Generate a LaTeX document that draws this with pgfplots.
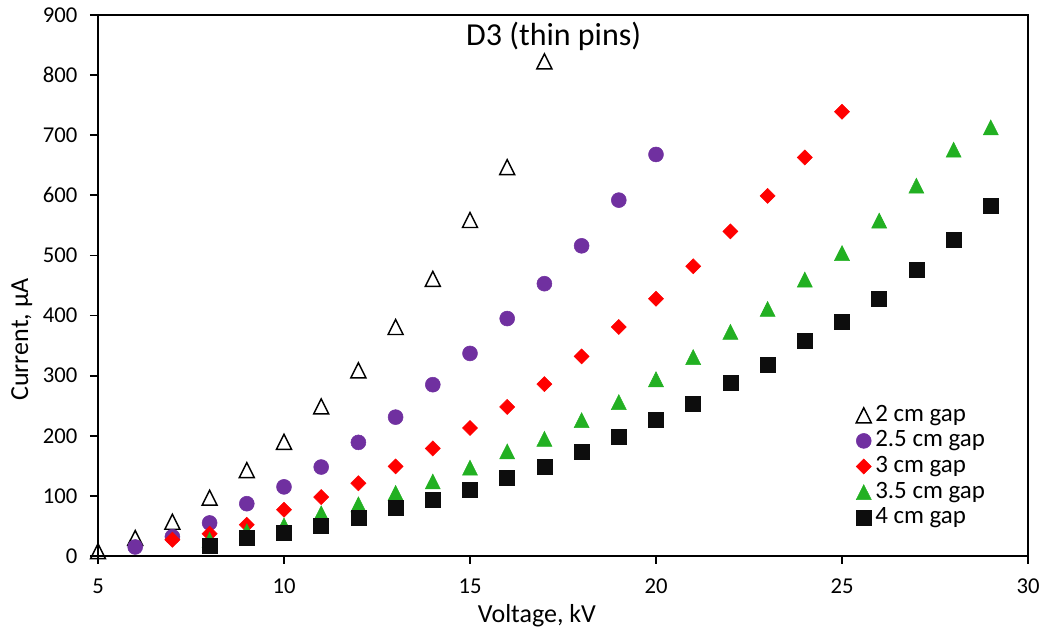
\documentclass[border=0pt]{standalone}
\usepackage{pgfplots}
\pgfplotsset{compat=1.18}
\usepackage{fontspec}
\setmainfont{Carlito}
\definecolor{cpurple}{HTML}{7030A0}
\definecolor{cred}{HTML}{FF0000}
\definecolor{cgreen}{HTML}{22B022}
\definecolor{cblack}{HTML}{0D0D0D}
\pgfplotsset{onelegend/.style={legend image code/.code={\draw[##1] plot coordinates {(0pt,0pt)};}}}
\begin{document}
\begin{tikzpicture}
\useasboundingbox (0,0) rectangle (785.25pt,475.5pt);
\begin{axis}[
  at={(73.5pt,58.5pt)}, anchor=south west,
  scale only axis, width=697.5pt, height=405.75pt,
  xmin=5, xmax=30, ymin=0, ymax=900,
  xtick={5,10,...,30}, ytick={0,100,...,900},
  tick align=outside, tick pos=left,
  major tick length=6pt,
  axis line style={line width=1.4pt, black},
  every tick/.style={line width=1.4pt, black},
  /pgf/number format/assume math mode=true,
  ticklabel style={font=\fontsize{17}{20}\selectfont},
  yticklabel style={xshift=-6pt},
  xticklabel style={yshift=-7.5pt},
  clip=false,
  xlabel={Voltage, kV}, ylabel={Current, µA},
  label style={font=\fontsize{19.5}{23}\selectfont},
  xlabel style={at={(axis description cs:0.472,-0.111)}, anchor=center},
  ylabel style={at={(axis description cs:-0.082,0.40)}, anchor=center, rotate=0},
  legend style={draw=none, fill=none, font=\fontsize{18.7}{22}\selectfont,
    at={(axis description cs:0.815,0.284)}, anchor=north west,
    row sep=0.2pt, column sep=2pt, inner sep=0pt,
    nodes={inner sep=1pt, text height=13pt, text depth=4pt}},
  legend cell align=left,
]
\addplot[only marks, mark=triangle, mark size=6.5pt, mark options={yshift=-1.9pt, yscale=1.15, line width=1.1pt, draw=black, fill=white}, onelegend]
coordinates {(5,8)(6,30)(7,57)(8,97)(9,143)(10,190)(11,249)(12,309)(13,381)(14,461)(15,559)(16,647)(17,823)};
\addlegendentry{2 cm gap}
\addplot[only marks, mark=*, mark size=5.6pt, mark options={draw=cpurple, fill=cpurple}, onelegend]
coordinates {(6,15)(7,32)(8,55)(9,87)(10,115)(11,148)(12,189)(13,231)(14,285)(15,337)(16,395)(17,453)(18,516)(19,592)(20,668)};
\addlegendentry{2.5 cm gap}
\addplot[only marks, mark=square*, mark size=4pt, mark options={rotate=45, draw=cred, fill=cred}, onelegend]
coordinates {(7,27)(8,37)(9,52)(10,77)(11,98)(12,121)(13,149)(14,179)(15,213)(16,248)(17,286)(18,332)(19,381)(20,428)(21,482)(22,540)(23,599)(24,663)(25,739)};
\addlegendentry{3 cm gap}
\addplot[only marks, mark=triangle*, mark size=6.5pt, mark options={yshift=-1.9pt, yscale=1.15, draw=cgreen, fill=cgreen}, onelegend]
coordinates {(8,27)(9,41)(10,51)(11,71)(12,86)(13,105)(14,124)(15,147)(16,174)(17,195)(18,226)(19,256)(20,294)(21,331)(22,373)(23,411)(24,460)(25,504)(26,558)(27,616)(28,676)(29,713)};
\addlegendentry{3.5 cm gap}
\addplot[only marks, mark=square*, mark size=5.6pt, mark options={draw=cblack, fill=cblack}, onelegend]
coordinates {(8,17)(9,31)(10,38)(11,51)(12,64)(13,80)(14,93)(15,110)(16,130)(17,149)(18,174)(19,199)(20,226)(21,254)(22,288)(23,318)(24,358)(25,389)(26,428)(27,476)(28,526)(29,582)};
\addlegendentry{4 cm gap}
\node[font=\fontsize{24}{28}\selectfont] at (axis description cs:0.490,0.961) {D3 (thin pins)};
\draw[line width=1.4pt, black] (axis description cs:0,1) -- (axis description cs:1,1) -- (axis description cs:1,0);
\end{axis}
\end{tikzpicture}
\end{document}
